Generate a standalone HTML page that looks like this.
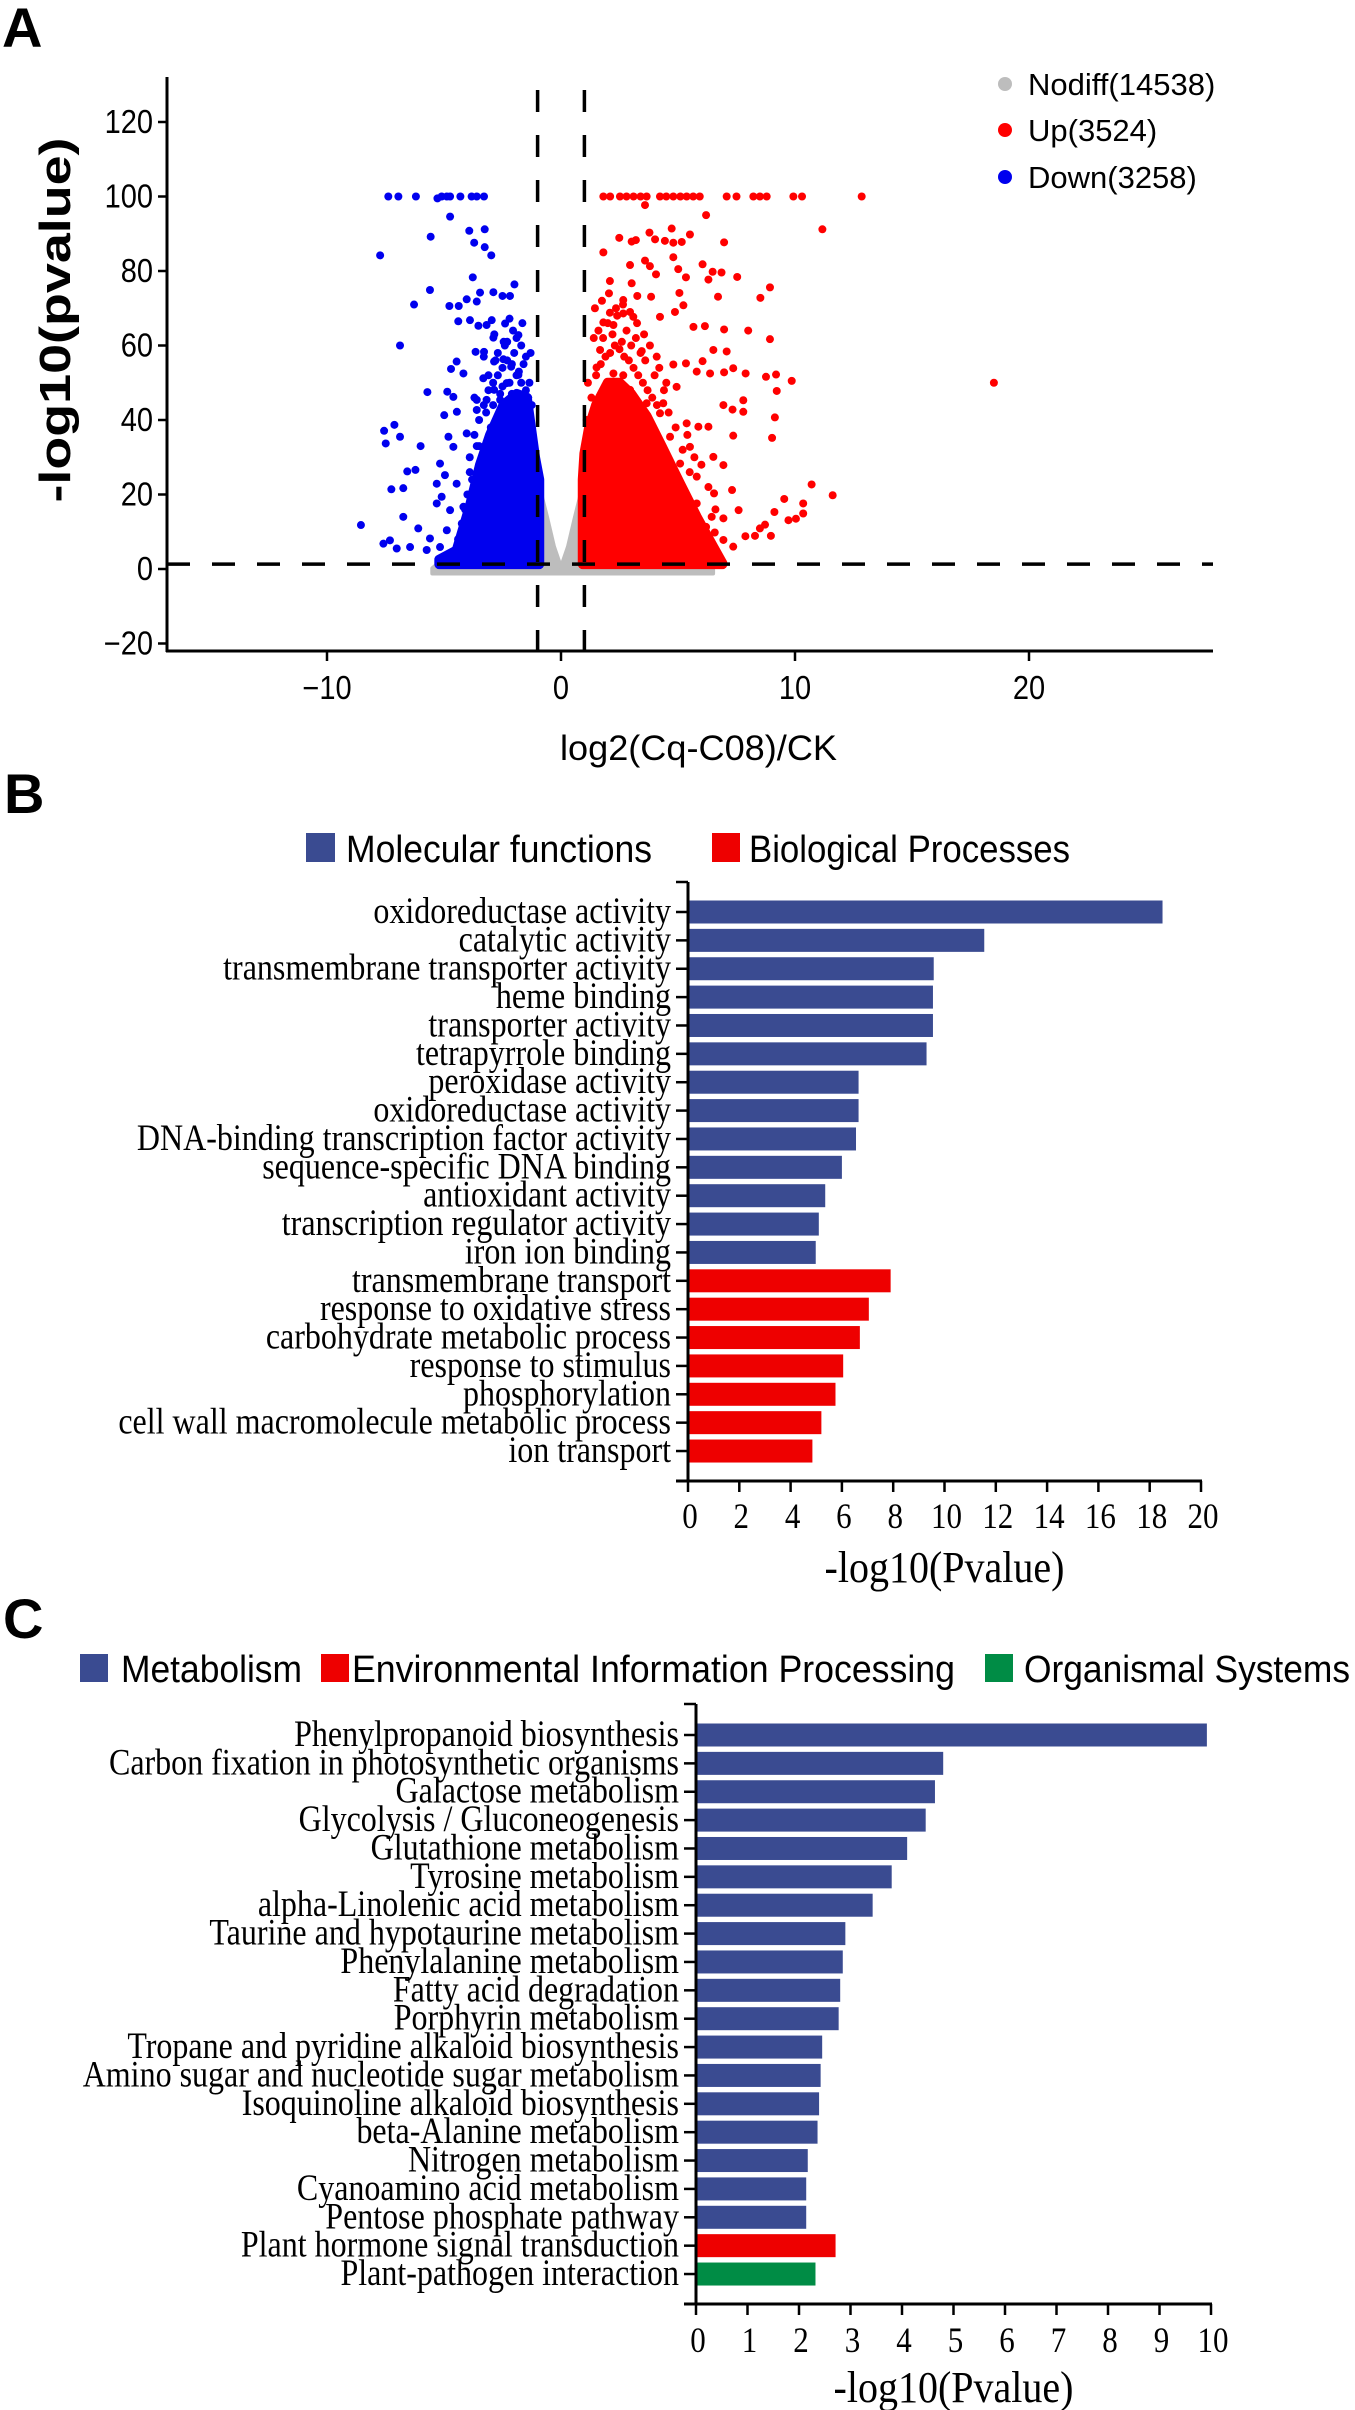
<!DOCTYPE html>
<html><head><meta charset="utf-8">
<style>
html,body{margin:0;padding:0;background:#fff;}
svg{display:block;}
.sans{font-family:"Liberation Sans",Arial,sans-serif;}
.serif{font-family:"Liberation Serif","Times New Roman",serif;}
</style></head>
<body>
<svg id="fig" width="1355" height="2410" viewBox="0 0 1355 2410" xmlns="http://www.w3.org/2000/svg"></svg>
<script>
// ---------- Panel A data (volcano) ----------
const aYTicks = [-20, 0, 20, 40, 60, 80, 100, 120];
const aXTicks = [-10, 0, 10, 20];
const legendA = ["Nodiff(14538)", "Up(3524)", "Down(3258)"];
const blueCoreX = [-5.2, -4.46, -3.89, -3.46, -3.03, -2.46, -1.89, -1.46, -1.11, -0.93];
const blueCoreTop = [2.5, 5, 17, 28, 36, 44, 47, 46, 30, 24];
const redCoreX = [0.93, 1.0, 1.2, 1.5, 2.0, 2.5, 3.0, 3.66, 4.3, 5.08, 5.8, 6.5, 6.9];
const redCoreTop = [24, 31, 38, 44, 50, 50, 47, 41, 33, 23, 14, 6, 1.5];
const grayX = [-5.5, -1, -0.6, -0.3, 0, 0.3, 0.6, 1, 6.5];
const grayTop = [0.2, 24, 14, 6, 0.5, 6, 14, 24, 0.2];
const blueX = [-7.38,-6.95,-6.2,-5.28,-5.1,-4.88,-4.74,-4.3,-3.82,-3.6,-3.29,
 -4.74,-3.92,-3.26,-5.57,-3.71,-3.26,-2.98,-7.73,-3.77,-1.99,-5.6,-6.28,-2.89,-2.5,-2.18,
 -4.77,-4.37,-4.03,-3.46,-3.6,-4.39,-3.89,-3.53,-3.18,-2.96,-2.39,-2.2,-1.82,-2.89,
 -6.88,-3.65,-3.29,-4.46,-4.7,-4.17,-3.32,-2.86,-2.46,-2.13,-1.82,-2.32,-2.86,-3.18,-3.6,-2.6,-1.89,-1.46,-2.2,
 -5.71,-4.86,-4.6,-4.99,-4.45,-3.6,-7.56,-7.12,-6.88,-7.49,-6.0,
 -4.81,-4.03,-4.6,-5.17,-4.96,-5.31,-4.46,-5.1,-5.31,-4.17,-4.74,-4.24,-4.88,-5.6,-6.1,-6.45,-7.02,-7.59,-7.31,-5.74,-5.17,-4.46,
 -8.55,-7.25,-6.74,-6.57,-6.22,-6.74];
const blueY = [100,100,100,99.5,100,100,100,100,100,100,100,
 94.6,90.8,91.2,89.2,87.6,86.4,84.2,84.2,78.3,76.4,74.9,71,74.3,73.3,73.3,
 70.6,70.6,72.4,74.2,71.8,66.5,66.8,65.3,65.5,66.8,65.9,67.2,62.8,62.1,
 60,58.3,58.3,55.7,53.7,52.5,51.2,55.7,56.3,54.3,52.1,49.9,48.1,45.4,42.7,45.4,44.5,42.7,42.7,
 47.5,47.6,46.2,41.3,42.2,45.4,37.1,38.7,35.5,33.7,33.0,
 35.5,36.4,32.8,28.3,25.2,22.9,22.9,19.4,17.6,16.7,15.8,12.2,10.4,8.2,10.9,5.9,5.5,6.8,7.7,5.1,5.9,3.3,
 11.8,21.4,21.7,26.2,26.6,14.0];
// extra mid-density blue points
const blueX2 = [-3.9,-3.7,-3.5,-3.3,-3.1,-2.9,-2.7,-2.5,-2.3,-2.1,-1.9,-1.7,-1.5,-1.3,
 -3.8,-3.4,-3.0,-2.6,-2.2,-1.8,-1.4,-1.2,-3.6,-3.2,-2.8,-2.4,-2.0,-1.6,
 -4.2,-4.0,-3.9,-3.5,-3.1,-2.7,-2.3,-1.9,-1.5,-1.25,-4.4,-4.1,-3.7,-2.9,-2.5,-2.1,-1.7,-1.35,
 -3.3,-2.85,-2.45,-2.05,-1.65,-1.3];
const blueY2 = [30,36,40,44,48,50,52,54,56,55,52,50,48,40,
 24,29,38,47,50,53,46,32,33,42,56,60,58,55,
 12,20,26,33,52,58,61,62,57,44,8,16,46,44,49,47,60,50,
 57,63,61,64,66,58];
const redX = [1.81,2.1,2.52,2.8,3.1,3.4,3.66,4.23,4.5,4.8,5.1,5.37,5.65,5.93,7.08,7.5,8.22,8.5,8.79,9.93,10.3,12.85,
 3.59,6.2,11.17,3.78,4.73,5.51,2.49,3.02,3.2,4.02,4.44,4.8,5.16,6.97,1.81,
 2.95,3.59,3.8,4.8,5.01,6.05,2.09,3.02,4.06,5.34,6.3,6.48,6.86,7.53,8.93,
 6.71,8.52,3.85,5.06,2.66,3.26,1.81,2.24,2.09,2.66,3.09,4.23,4.87,5.23,6.15,6.97,8.0,8.93,5.66,
 1.67,1.52,2.24,2.66,3.45,4.09,4.8,5.34,6.05,6.51,7.08,5.8,6.37,6.97,7.36,7.89,8.76,9.19,9.86,9.22,
 7.79,6.94,7.33,7.79,9.14,7.36,9.02,5.87,6.3,5.51,6.51,6.94,5.8,5.09,4.66,4.23,3.66,3.23,5.37,4.94,4.37,2.95,
 10.71,11.61,9.54,10.35,9.12,9.72,10.04,10.35,8.72,8.5,8.29,7.88,8.97,7.36,6.94,6.57,6.2,6.94,7.31,7.59,6.54,6.44,5.8,
 18.5];
const redY = [100,100,100,100,100,100,100,100,100,100,100,100,100,100,100,100,100,100,100,100,100,100,
 97.7,95,91.2,90.3,91.4,89.8,88.9,87.9,88.3,88.5,88.1,87.6,87.8,87.7,85,
 81.6,82.8,81.3,83.7,80.5,81.8,77.3,76.7,79.1,78.3,77.7,79.8,79.6,78.4,75.6,
 73.1,72.8,73.1,74.1,72.2,73.3,66.2,65.5,68.8,68.6,67.7,67.7,69,70.8,65.2,64.3,64,61.7,65,
 58.8,54.1,52.5,52,58.5,57,54.9,55.2,55.8,58.8,58.4,53,52.5,52.8,53.9,52.5,51.6,52.2,50.5,47.8,
 45.3,44,42.8,42.2,40.7,35.8,35.2,38.2,38.2,32.8,30.1,27.9,24.8,28.3,35.5,41.8,44.5,37.3,39.1,48.9,44.5,48.1,
 22.7,19.8,18.8,17.6,15.3,13.1,13.5,14.9,11.9,10.9,8.9,8.8,8.9,6.0,7.8,9.8,11.3,13.6,21.2,15.8,20.3,14,17.6,
 50];
// extra mid-density red points
const redX2 = [1.1,1.3,1.5,1.7,1.9,2.1,2.3,2.5,2.7,2.9,3.1,3.3,3.5,3.7,3.9,4.1,
 1.2,1.4,1.6,1.8,2.0,2.2,2.4,2.6,2.8,3.0,3.2,3.4,3.6,3.8,4.0,4.4,4.6,4.9,5.2,5.5,
 1.15,1.45,1.75,2.05,2.35,2.65,2.95,3.25,3.55,4.2,4.5,5.4,5.7,6.0,6.3,6.6];
const redY2 = [40,46,52,55,57,58,60,59,57,56,54,52,50,48,46,44,
 34,62,64,62,66,63,68,61,64,60,62,58,56,60,52,48,42,38,32,26,
 50,70,72,74,70,71,69,66,63,54,50,36,30,28,22,16];

// ---------- Panel B data ----------
const bCats = ["oxidoreductase activity","catalytic activity","transmembrane transporter activity","heme binding","transporter activity","tetrapyrrole binding","peroxidase activity","oxidoreductase activity","DNA-binding transcription factor activity","sequence-specific DNA binding","antioxidant activity","transcription regulator activity","iron ion binding","transmembrane transport","response to oxidative stress","carbohydrate metabolic process","response to stimulus","phosphorylation","cell wall macromolecule metabolic process","ion transport"];
const bValues = [18.5,11.55,9.58,9.55,9.55,9.3,6.65,6.65,6.55,6.0,5.35,5.1,4.98,7.9,7.05,6.7,6.05,5.75,5.2,4.85];
const bGroups = ["MF","MF","MF","MF","MF","MF","MF","MF","MF","MF","MF","MF","MF","BP","BP","BP","BP","BP","BP","BP"];
const bTicks = [0,2,4,6,8,10,12,14,16,18,20];

// ---------- Panel C data ----------
const cCats = ["Phenylpropanoid biosynthesis","Carbon fixation in photosynthetic organisms","Galactose metabolism","Glycolysis / Gluconeogenesis","Glutathione metabolism","Tyrosine metabolism","alpha-Linolenic acid metabolism","Taurine and hypotaurine metabolism","Phenylalanine metabolism","Fatty acid degradation","Porphyrin metabolism","Tropane and pyridine alkaloid biosynthesis","Amino sugar and nucleotide sugar metabolism","Isoquinoline alkaloid biosynthesis","beta-Alanine metabolism","Nitrogen metabolism","Cyanoamino acid metabolism","Pentose phosphate pathway","Plant hormone signal transduction","Plant-pathogen interaction"];
const cValues = [9.92,4.8,4.64,4.46,4.1,3.8,3.43,2.9,2.85,2.8,2.77,2.45,2.42,2.39,2.36,2.17,2.14,2.14,2.71,2.32];
const cGroups = ["M","M","M","M","M","M","M","M","M","M","M","M","M","M","M","M","M","M","E","O"];
const cTicks = [0,1,2,3,4,5,6,7,8,9,10];

const NS = "http://www.w3.org/2000/svg";
const svg = document.getElementById("fig");
function mk(tag, attrs, parent) {
  const e = document.createElementNS(NS, tag);
  for (const k in attrs) e.setAttribute(k, attrs[k]);
  (parent || svg).appendChild(e);
  return e;
}
function txt(s, attrs, parent) { const e = mk("text", attrs, parent); e.textContent = s; return e; }
// condense: measure at base size, then enlarge font but keep width
function condense(e, bigSize) {
  const w = e.getComputedTextLength();
  if (w > 0) {
    e.setAttribute("font-size", bigSize);
    e.setAttribute("textLength", w);
    e.setAttribute("lengthAdjust", "spacingAndGlyphs");
  }
}

const BLUEBAR = "#3a4b91", RED = "#ee0000", GREEN = "#008c45";

// ================= Panel A =================
const gA = mk("g", {});


const ax = v => 561 + v * 23.4;
const ay = v => 569 - v * 3.725;

let lab = txt("A", {x: 2, y: 47, class: "sans", "font-size": 56, "font-weight": "bold"}, gA);



let gp = "";
grayX.forEach((x, i) => { gp += (i ? "L" : "M") + ax(x) + "," + ay(grayTop[i]) + " "; });
gp += "L" + ax(6.5) + "," + ay(-1.2) + " L" + ax(-5.5) + "," + ay(-1.2) + " Z";
let gray = mk("path", {d: gp, fill: "#bdbdbd", stroke: "#bdbdbd", "stroke-width": 4, "stroke-linejoin": "round"}, gA);



function core(xs, tops, color, name) {
  let d = "M" + ax(xs[0]) + "," + ay(1.3) + " ";
  xs.forEach((x, i) => { d += "L" + ax(x) + "," + ay(tops[i]) + " "; });
  d += "L" + ax(xs[xs.length - 1]) + "," + ay(1.3) + " Z";
  const p = mk("path", {d: d, fill: color, stroke: color, "stroke-width": 10, "stroke-linejoin": "round"}, gA);
  
  
}
core(blueCoreX, blueCoreTop, "#0000ee", "down-dense-points");
core(redCoreX, redCoreTop, "#ff0000", "up-dense-points");

function pts(xs, ys, color, name) {
  xs.forEach((x, i) => {
    const c = mk("circle", {cx: ax(x), cy: ay(ys[i]), r: 4, fill: color}, gA);
    
    
  });
}
pts(blueX, blueY, "#0000ee", "down-point");
pts(blueX2, blueY2, "#0000ee", "down-point");
pts(redX, redY, "#ff0000", "up-point");
pts(redX2, redY2, "#ff0000", "up-point");

let th = mk("line", {x1: 167, x2: 1213, y1: ay(1.3), y2: ay(1.3), stroke: "#000", "stroke-width": 3.5, "stroke-dasharray": "23,22"}, gA);


[-1, 1].forEach(v => {
  const l = mk("line", {x1: ax(v), x2: ax(v), y1: 90, y2: 651, stroke: "#000", "stroke-width": 3.5, "stroke-dasharray": "22,23"}, gA);
  
  
});

let yaxA = mk("line", {x1: 167, x2: 167, y1: 77, y2: 652, stroke: "#000", "stroke-width": 3}, gA);


let xaxA = mk("line", {x1: 166, x2: 1213, y1: 651, y2: 651, stroke: "#000", "stroke-width": 3}, gA);


aYTicks.forEach(v => {
  const t = mk("line", {x1: 158, x2: 167, y1: ay(v), y2: ay(v), stroke: "#000", "stroke-width": 2.5}, gA);
  
  
  const l = txt((v < 0 ? "\u2212" : "") + Math.abs(v), {x: 153, y: ay(v) + 11, "text-anchor": "end", class: "sans", "font-size": 29}, gA);
  
  
  condense(l, 33);
});
aXTicks.forEach(v => {
  const t = mk("line", {x1: ax(v), x2: ax(v), y1: 651, y2: 661, stroke: "#000", "stroke-width": 2.5}, gA);
  
  
  const l = txt((v < 0 ? "\u2212" : "") + Math.abs(v), {x: ax(v), y: 699, "text-anchor": "middle", class: "sans", "font-size": 29}, gA);
  
  
  condense(l, 33);
});
let yt = txt("-log10(pvalue)", {x: 0, y: 0, transform: "translate(70,320) rotate(-90)", "text-anchor": "middle", class: "sans", "font-size": 44, "font-weight": "bold", textLength: 365, lengthAdjust: "spacingAndGlyphs"}, gA);


let xt = txt("log2(Cq-C08)/CK", {x: 560, y: 760, class: "sans", "font-size": 35, textLength: 277, lengthAdjust: "spacingAndGlyphs"}, gA);



const legColors = ["#bdbdbd", "#ff0000", "#0000ee"];
const legY = [84, 130, 177];
legendA.forEach((s, i) => {
  const c = mk("circle", {cx: 1005, cy: legY[i], r: 7, fill: legColors[i]}, gA);
  
  
  const t = txt(s, {x: 1028, y: legY[i] + 11, class: "sans", "font-size": 31}, gA);
  
  
});

// ================= Bar chart helper =================
function barChart(opt) {
  const g = mk("g", {});
  
  
  const sx = v => opt.x0 + v * opt.unit;
  const sy = i => opt.y0 + i * opt.step;
  opt.values.forEach((v, i) => {
    const r = mk("rect", {x: opt.x0 + 1, y: sy(i) - 11.5, width: sx(v) - opt.x0 - 1, height: 23, fill: opt.colors[opt.groups[i]]}, g);
    
    
    const tk = mk("line", {x1: opt.x0 - 12, x2: opt.x0, y1: sy(i), y2: sy(i), stroke: "#000", "stroke-width": 2.5}, g);
    
    
    const l = txt(opt.cats[i], {x: opt.x0 - 17, y: sy(i) + 11, "text-anchor": "end", class: "serif", "font-size": 32}, g);
    
    
    condense(l, 37);
  });
  const ya = mk("line", {x1: opt.x0, x2: opt.x0, y1: opt.top, y2: opt.bottom + 1.5, stroke: "#000", "stroke-width": 3}, g);
  
  
  const tt = mk("line", {x1: opt.x0 - 12, x2: opt.x0, y1: opt.top, y2: opt.top, stroke: "#000", "stroke-width": 2.5}, g);
  
  
  const xa = mk("line", {x1: opt.x0 - 12, x2: sx(opt.ticks[opt.ticks.length - 1]) + 1, y1: opt.bottom, y2: opt.bottom, stroke: "#000", "stroke-width": 3}, g);
  
  
  opt.ticks.forEach(v => {
    const t = mk("line", {x1: sx(v), x2: sx(v), y1: opt.bottom, y2: opt.bottom + 11, stroke: "#000", "stroke-width": 2.5}, g);
    
    
    const l = txt(String(v), {x: sx(v) + 2, y: opt.tickY, "text-anchor": "middle", class: "serif", "font-size": 31}, g);
    
    
    condense(l, 36);
  });
  const ti = txt("-log10(Pvalue)", {x: (opt.x0 + sx(opt.ticks[opt.ticks.length - 1])) / 2, y: opt.titleY, "text-anchor": "middle", class: "serif", "font-size": 40}, g);
  
  
  condense(ti, 44);
  return g;
}

// ================= Panel B =================
let labB = txt("B", {x: 4, y: 813, class: "sans", "font-size": 56, "font-weight": "bold"});


let sqB1 = mk("rect", {x: 306, y: 833, width: 29, height: 29, fill: BLUEBAR});


let tB1 = txt("Molecular functions", {x: 346, y: 862, class: "sans", "font-size": 38, textLength: 306, lengthAdjust: "spacingAndGlyphs"});


let sqB2 = mk("rect", {x: 712, y: 833, width: 28, height: 29, fill: RED});


let tB2 = txt("Biological Processes", {x: 749, y: 862, class: "sans", "font-size": 38, textLength: 321, lengthAdjust: "spacingAndGlyphs"});



barChart({name: "go-bar-chart", cats: bCats, values: bValues, groups: bGroups, ticks: bTicks,
  colors: {MF: BLUEBAR, BP: RED}, x0: 688, unit: 25.65, y0: 912, step: 28.37,
  top: 882, bottom: 1481, tickY: 1528, titleY: 1582});

// ================= Panel C =================
let labC = txt("C", {x: 3, y: 1638, class: "sans", "font-size": 56, "font-weight": "bold"});


const legC = [["Metabolism", BLUEBAR, 80, 121, 181], ["Environmental Information Processing", RED, 321, 352, 603], ["Organismal Systems", GREEN, 985, 1024, 326]];
legC.forEach(e => {
  const s = mk("rect", {x: e[2], y: 1654, width: 28, height: 28, fill: e[1]});
  
  
  const t = txt(e[0], {x: e[3], y: 1682, class: "sans", "font-size": 38, textLength: e[4], lengthAdjust: "spacingAndGlyphs"});
  
  
});

barChart({name: "kegg-bar-chart", cats: cCats, values: cValues, groups: cGroups, ticks: cTicks,
  colors: {M: BLUEBAR, E: RED, O: GREEN}, x0: 696, unit: 51.5, y0: 1735, step: 28.37,
  top: 1704, bottom: 2304, tickY: 2352, titleY: 2402});
</script>
</body></html>
